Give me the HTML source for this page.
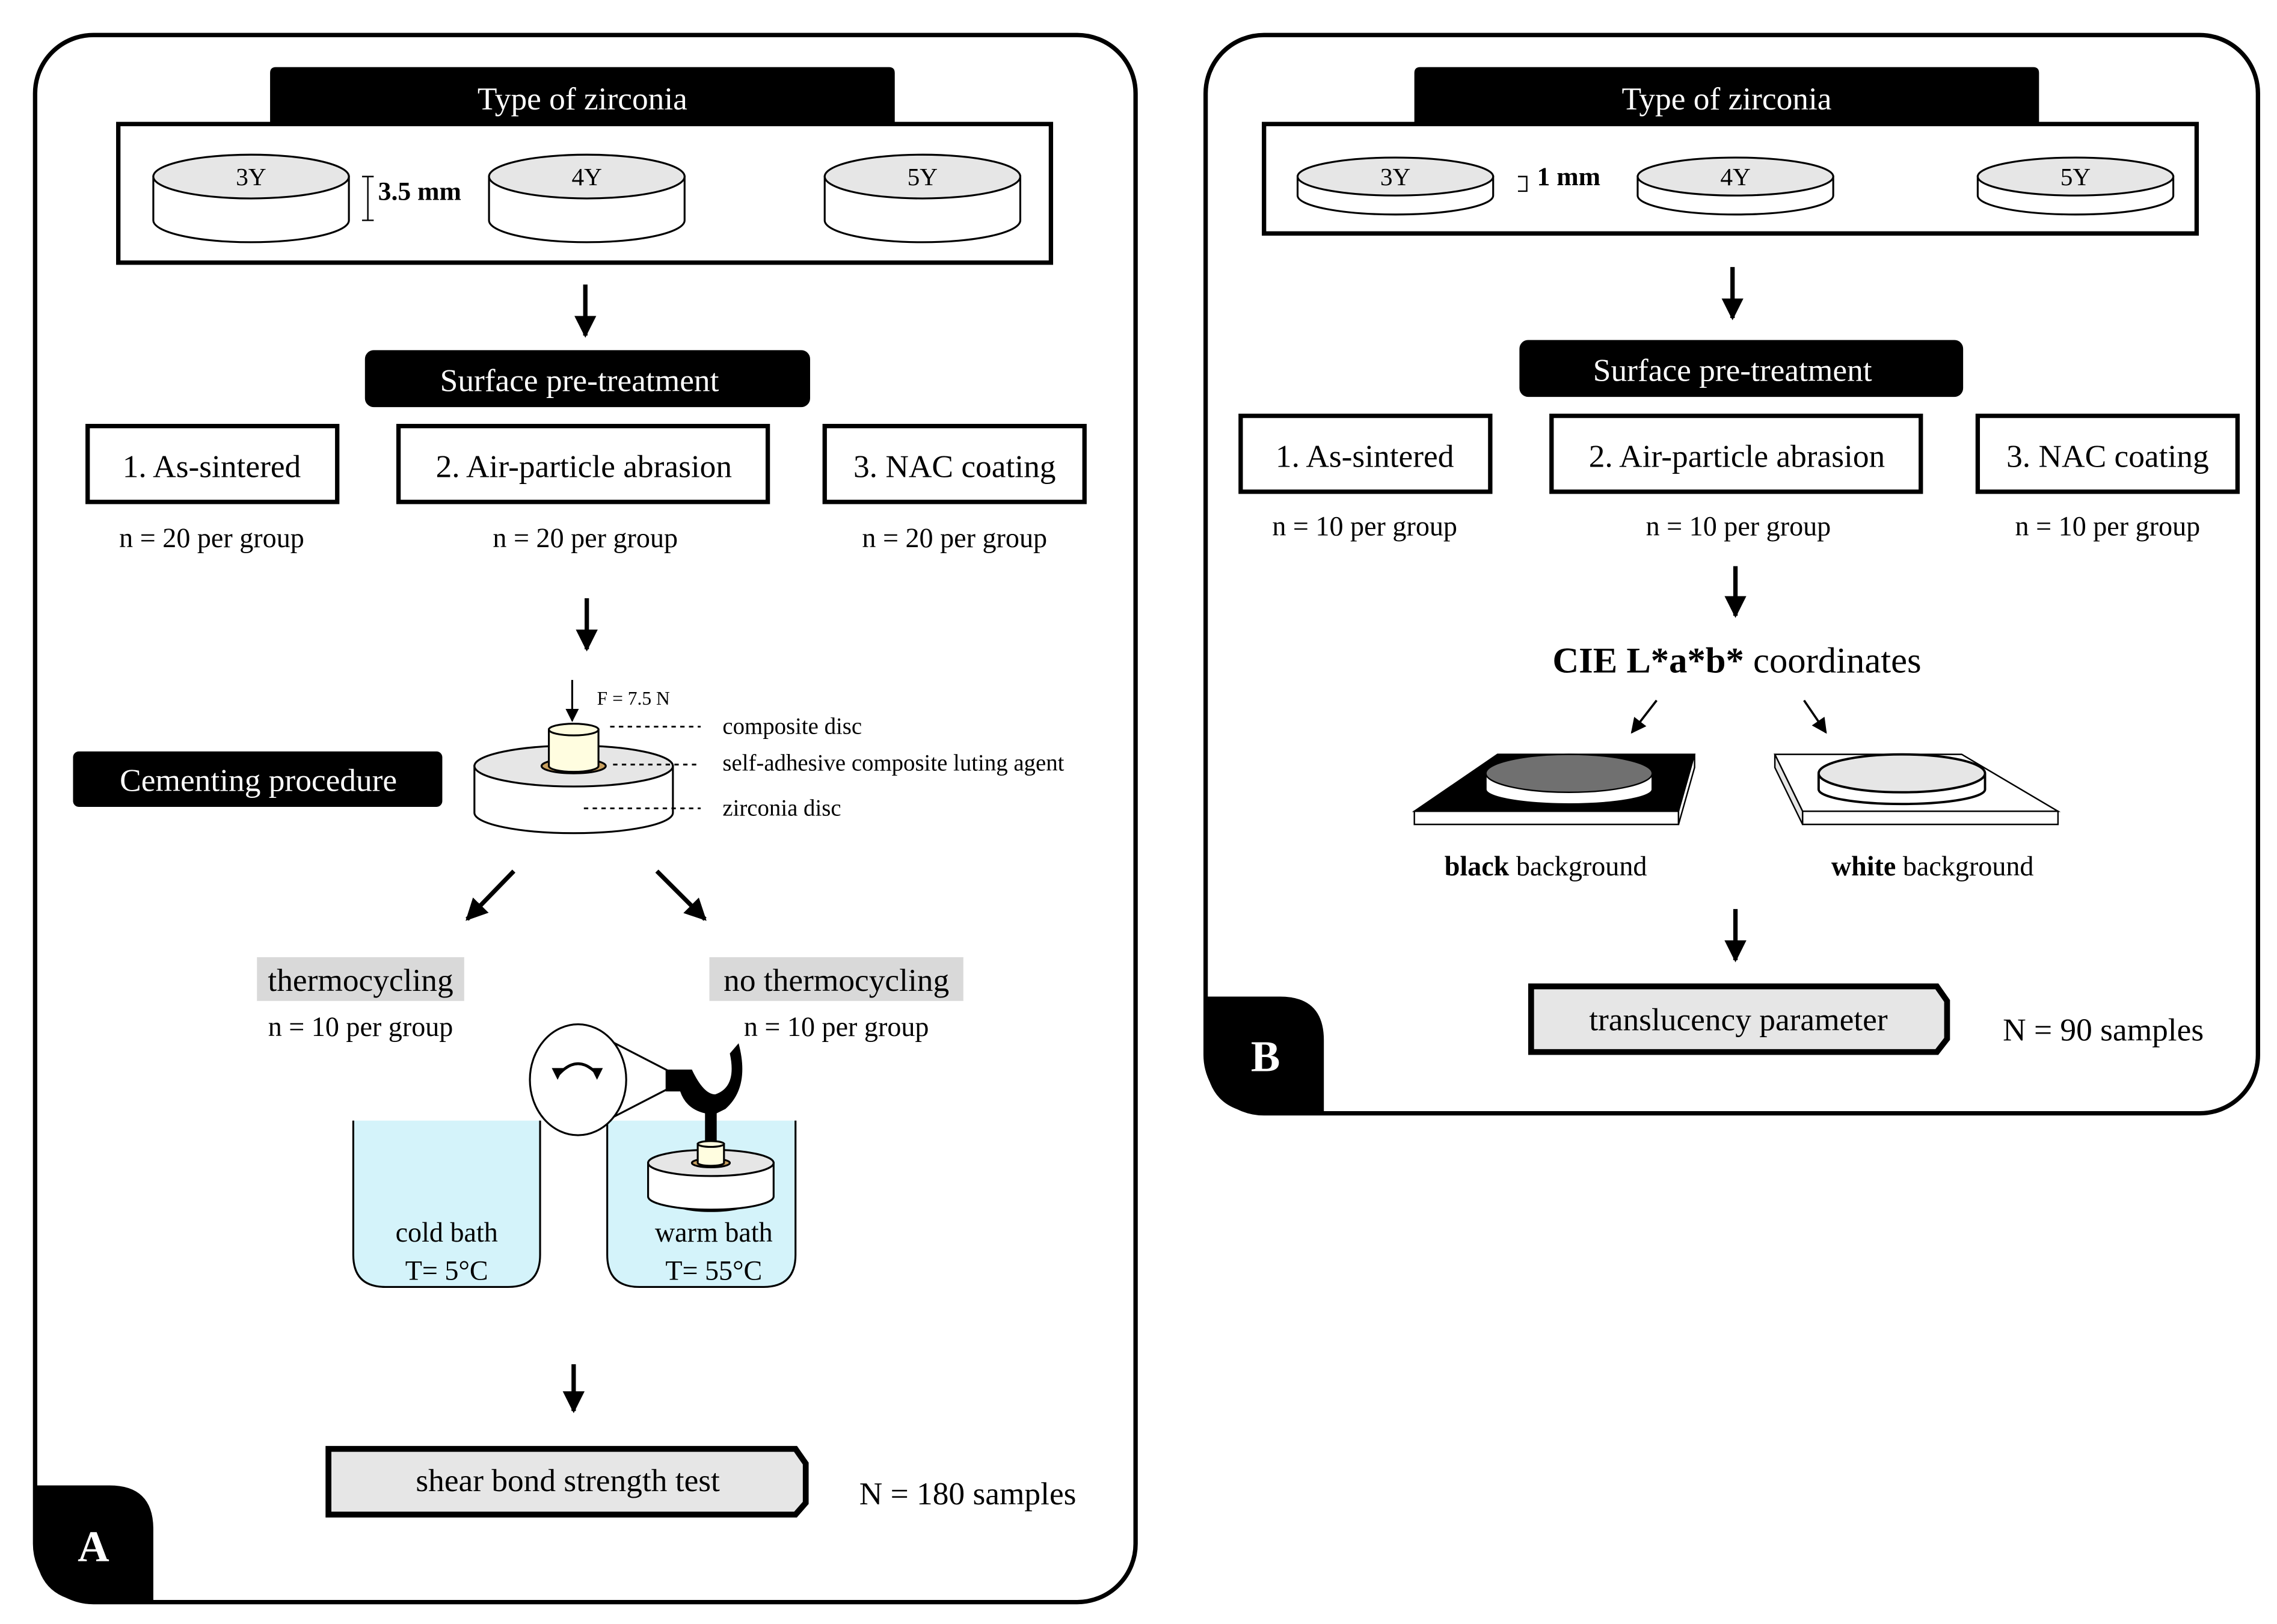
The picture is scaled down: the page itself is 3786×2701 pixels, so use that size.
<!DOCTYPE html>
<html><head><meta charset="utf-8"><style>html,body{margin:0;padding:0;background:#fff}svg{display:block}</style></head><body>
<svg width="3786" height="2701" viewBox="0 0 1560 1113" xmlns="http://www.w3.org/2000/svg" font-family="Liberation Serif, serif">
<defs>
<marker id="ah" viewBox="0 0 10 10" refX="9" refY="5" markerWidth="5" markerHeight="5" orient="auto"><path d="M0,0 L10,5 L0,10z" fill="#000"/></marker>
<marker id="ahs" viewBox="0 0 10 10" refX="9" refY="5" markerWidth="8" markerHeight="7" orient="auto"><path d="M0,0 L10,5 L0,10z" fill="#000"/></marker>
</defs>
<rect width="1560" height="1113" fill="#fff"/>
<!-- Panel A -->
<rect x="24" y="24" width="754" height="1074" rx="40" fill="none" stroke="#000" stroke-width="3"/>
<path d="M24,1018 L75,1018 Q105,1018 105,1048 L105,1098 L64,1098 Q24,1098 24,1058z" fill="#000"/>
<text x="64" y="1070" font-size="30" font-weight="bold" fill="#fff" text-anchor="middle">A</text>
<path d="M185,84 L185,50 Q185,46 189,46 L609,46 Q613,46 613,50 L613,84z" fill="#000"/>
<text x="399" y="75" font-size="22" fill="#fff" text-anchor="middle">Type of zirconia</text>
<rect x="81" y="85" width="639" height="95" fill="none" stroke="#000" stroke-width="3"/>
<g stroke="#000" stroke-width="1.3">
<path d="M105,121 L105,151 A67,15 0 0 0 239,151 L239,121z" fill="#fff"/><ellipse cx="172" cy="121" rx="67" ry="15" fill="#e6e6e6"/>
<path d="M335,121 L335,151 A67,15 0 0 0 469,151 L469,121z" fill="#fff"/><ellipse cx="402" cy="121" rx="67" ry="15" fill="#e6e6e6"/>
<path d="M565,121 L565,151 A67,15 0 0 0 699,151 L699,121z" fill="#fff"/><ellipse cx="632" cy="121" rx="67" ry="15" fill="#e6e6e6"/>
<path d="M248,121 L256,121 M252,121 L252,151 M248,151 L256,151" stroke-width="1"/>
</g>
<g font-size="17" text-anchor="middle"><text x="172" y="127">3Y</text><text x="402" y="127">4Y</text><text x="632" y="127">5Y</text></g>
<text x="259" y="137" font-size="18" font-weight="bold">3.5 mm</text>
<line x1="401" y1="195" x2="401" y2="230" stroke="#000" stroke-width="3" marker-end="url(#ah)"/>
<rect x="250" y="240" width="305" height="39" rx="6" fill="#000"/>
<text x="397" y="268" font-size="22" fill="#fff" text-anchor="middle">Surface pre-treatment</text>
<g fill="none" stroke="#000" stroke-width="3"><rect x="60" y="292" width="171" height="52"/><rect x="273" y="292" width="253" height="52"/><rect x="565" y="292" width="178" height="52"/></g>
<g font-size="22" text-anchor="middle"><text x="145" y="327">1. As-sintered</text><text x="400" y="327">2. Air-particle abrasion</text><text x="654" y="327">3. NAC coating</text></g>
<g font-size="19" text-anchor="middle"><text x="145" y="375">n = 20 per group</text><text x="401" y="375">n = 20 per group</text><text x="654" y="375">n = 20 per group</text></g>
<line x1="402" y1="410" x2="402" y2="445" stroke="#000" stroke-width="3" marker-end="url(#ah)"/>
<!-- cement figure -->
<g stroke="#000" stroke-width="1.3">
<path d="M325,525 L325,557 A68,14 0 0 0 461,557 L461,525z" fill="#fff"/>
<ellipse cx="393" cy="525" rx="68" ry="14" fill="#e6e6e6"/>
<ellipse cx="393" cy="525" rx="22" ry="5" fill="#c8a060"/>
<path d="M376,500 L376,525 A17,4 0 0 0 410,525 L410,500z" fill="#fffde0"/>
<ellipse cx="393" cy="500" rx="17" ry="4" fill="#fffde0"/>
</g>
<line x1="392" y1="466" x2="392" y2="494" stroke="#000" stroke-width="1.3" marker-end="url(#ahs)"/>
<text x="409" y="483" font-size="13">F = 7.5 N</text>
<g stroke="#000" stroke-width="1.2" stroke-dasharray="3,3"><line x1="418" y1="498" x2="480" y2="498"/><line x1="420" y1="524" x2="480" y2="524"/><line x1="400" y1="554" x2="480" y2="554"/></g>
<g font-size="16"><text x="495" y="503">composite disc</text><text x="495" y="528">self-adhesive composite luting agent</text><text x="495" y="559">zirconia disc</text></g>
<rect x="50" y="515" width="253" height="38" rx="4" fill="#000"/>
<text x="177" y="542" font-size="22" fill="#fff" text-anchor="middle">Cementing procedure</text>
<line x1="352" y1="597" x2="320" y2="630" stroke="#000" stroke-width="3" marker-end="url(#ah)"/>
<line x1="450" y1="597" x2="483" y2="630" stroke="#000" stroke-width="3" marker-end="url(#ah)"/>
<rect x="176" y="656" width="142" height="30" fill="#d9d9d9"/>
<rect x="486" y="656" width="174" height="30" fill="#d9d9d9"/>
<g font-size="22" text-anchor="middle"><text x="247" y="679">thermocycling</text><text x="573" y="679">no thermocycling</text></g>
<g font-size="19" text-anchor="middle"><text x="247" y="710">n = 10 per group</text><text x="573" y="710">n = 10 per group</text></g>
<g stroke="#000" stroke-width="1.3">
<path d="M242,768 L242,860 Q242,882 264,882 L348,882 Q370,882 370,860 L370,768" fill="#d4f3fa"/>
<path d="M416,768 L416,860 Q416,882 438,882 L523,882 Q545,882 545,860 L545,768" fill="#d4f3fa"/>
<line x1="396" y1="702" x2="460" y2="735"/><line x1="396" y1="778" x2="460" y2="745"/>
<ellipse cx="396" cy="740" rx="33" ry="38" fill="#fff"/>
<path d="M383,736 Q396,722 409,736" fill="none" stroke-width="2"/>
</g>
<path d="M378,732 l4,8 l4,-8z M405,732 l4,8 l4,-8z" fill="#000"/>
<path d="M456,733 L474,733 Q482,750 490,750 Q505,745 500,722 L506,715 Q514,745 497,760 L491,763 L491,800 L483,800 L483,763 Q470,760 466,748 L456,748z" fill="#000"/>
<g stroke="#000" stroke-width="1.3">
<ellipse cx="487" cy="826" rx="22" ry="4" fill="#000"/>
<path d="M444,797 L444,820 A43,9 0 0 0 530,820 L530,797z" fill="#fff"/>
<ellipse cx="487" cy="797" rx="43" ry="9" fill="#e6e6e6"/>
<ellipse cx="487" cy="797" rx="13" ry="3" fill="#c8a060"/>
<path d="M478,784 L478,797 A9,2 0 0 0 496,797 L496,784z" fill="#fffde0"/>
<ellipse cx="487" cy="784" rx="9" ry="2" fill="#fffde0"/>
</g>
<g font-size="19" text-anchor="middle"><text x="306" y="851">cold bath</text><text x="306" y="877">T= 5°C</text><text x="489" y="851">warm bath</text><text x="489" y="877">T= 55°C</text></g>
<line x1="393" y1="935" x2="393" y2="967" stroke="#000" stroke-width="3" marker-end="url(#ah)"/>
<path d="M225,993 L545,993 L552,1003 L552,1030 L545,1038 L225,1038z" fill="#e6e6e6" stroke="#000" stroke-width="4"/>
<text x="389" y="1022" font-size="22" text-anchor="middle">shear bond strength test</text>
<text x="663" y="1031" font-size="22" text-anchor="middle">N = 180 samples</text>
<!-- Panel B -->
<rect x="826" y="24" width="721" height="739" rx="40" fill="none" stroke="#000" stroke-width="3"/>
<path d="M826,683 L877,683 Q907,683 907,713 L907,763 L866,763 Q826,763 826,723z" fill="#000"/>
<text x="867" y="734" font-size="30" font-weight="bold" fill="#fff" text-anchor="middle">B</text>
<path d="M969,84 L969,50 Q969,46 973,46 L1393,46 Q1397,46 1397,50 L1397,84z" fill="#000"/>
<text x="1183" y="75" font-size="22" fill="#fff" text-anchor="middle">Type of zirconia</text>
<rect x="866" y="85" width="639" height="75" fill="none" stroke="#000" stroke-width="3"/>
<g stroke="#000" stroke-width="1.3">
<path d="M889,121 L889,134 A67,13 0 0 0 1023,134 L1023,121z" fill="#fff"/><ellipse cx="956" cy="121" rx="67" ry="13" fill="#e6e6e6"/>
<path d="M1122,121 L1122,134 A67,13 0 0 0 1256,134 L1256,121z" fill="#fff"/><ellipse cx="1189" cy="121" rx="67" ry="13" fill="#e6e6e6"/>
<path d="M1355,121 L1355,134 A67,13 0 0 0 1489,134 L1489,121z" fill="#fff"/><ellipse cx="1422" cy="121" rx="67" ry="13" fill="#e6e6e6"/>
<path d="M1040,121 L1046,121 L1046,131 L1040,131" fill="none" stroke-width="1"/>
</g>
<g font-size="17" text-anchor="middle"><text x="956" y="127">3Y</text><text x="1189" y="127">4Y</text><text x="1422" y="127">5Y</text></g>
<text x="1053" y="127" font-size="18" font-weight="bold">1 mm</text>
<line x1="1187" y1="183" x2="1187" y2="218" stroke="#000" stroke-width="3" marker-end="url(#ah)"/>
<rect x="1041" y="233" width="304" height="39" rx="6" fill="#000"/>
<text x="1187" y="261" font-size="22" fill="#fff" text-anchor="middle">Surface pre-treatment</text>
<g fill="none" stroke="#000" stroke-width="3"><rect x="850" y="285" width="171" height="52"/><rect x="1063" y="285" width="253" height="52"/><rect x="1355" y="285" width="178" height="52"/></g>
<g font-size="22" text-anchor="middle"><text x="935" y="320">1. As-sintered</text><text x="1190" y="320">2. Air-particle abrasion</text><text x="1444" y="320">3. NAC coating</text></g>
<g font-size="19" text-anchor="middle"><text x="935" y="367">n = 10 per group</text><text x="1191" y="367">n = 10 per group</text><text x="1444" y="367">n = 10 per group</text></g>
<line x1="1189" y1="388" x2="1189" y2="422" stroke="#000" stroke-width="3" marker-end="url(#ah)"/>
<text x="1190" y="461" font-size="25" text-anchor="middle"><tspan font-weight="bold">CIE L*a*b*</tspan> coordinates</text>
<line x1="1135" y1="480" x2="1118" y2="502" stroke="#000" stroke-width="1.5" marker-end="url(#ahs)"/>
<line x1="1236" y1="480" x2="1251" y2="502" stroke="#000" stroke-width="1.5" marker-end="url(#ahs)"/>
<g stroke="#000" stroke-width="1">
<path d="M969,556 L1026,517 L1161,517 L1150,556z" fill="#000"/>
<path d="M969,556 L1150,556 L1150,565 L969,565z" fill="#fff"/>
<path d="M1150,556 L1161,517 L1161,526 L1150,565z" fill="#fff"/>
<path d="M1018,531 L1018,541 A57,10 0 0 0 1132,541 L1132,531z" fill="#fff"/>
<ellipse cx="1075" cy="530" rx="57" ry="13" fill="#707070"/>
<path d="M1216,517 L1344,517 L1410,556 L1235,556z" fill="#fff"/>
<path d="M1235,556 L1410,556 L1410,565 L1235,565z" fill="#fff"/>
<path d="M1216,517 L1235,556 L1235,565 L1216,526z" fill="#e6e6e6"/>
<path d="M1246,531 L1246,541 A57,10 0 0 0 1360,541 L1360,531z" fill="#fff" stroke-width="1.6"/>
<ellipse cx="1303" cy="530" rx="57" ry="13" fill="#e6e6e6" stroke-width="1.6"/>
</g>
<g font-size="19" text-anchor="middle"><text x="1059" y="600"><tspan font-weight="bold">black</tspan> background</text><text x="1324" y="600"><tspan font-weight="bold">white</tspan> background</text></g>
<line x1="1189" y1="623" x2="1189" y2="658" stroke="#000" stroke-width="3" marker-end="url(#ah)"/>
<path d="M1049,676 L1327,676 L1334,686 L1334,712 L1327,721 L1049,721z" fill="#e6e6e6" stroke="#000" stroke-width="4"/>
<text x="1191" y="706" font-size="22" text-anchor="middle">translucency parameter</text>
<text x="1441" y="713" font-size="22" text-anchor="middle">N = 90 samples</text>
</svg>
</body></html>
